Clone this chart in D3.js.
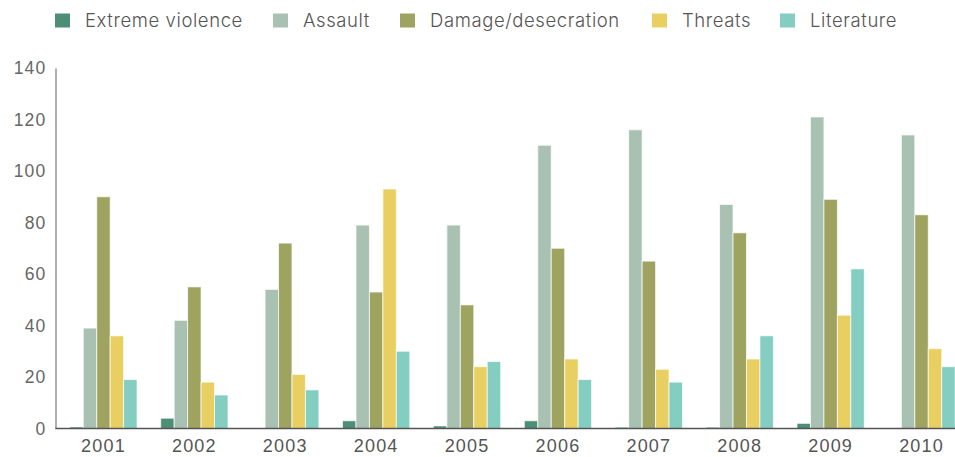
<!DOCTYPE html>
<html>
<head>
<meta charset="utf-8">
<script src="https://cdn.jsdelivr.net/npm/d3@7"></script>
<style>
  html, body { margin: 0; padding: 0; background: #fff; overflow: hidden; }
  svg { display: block; font-family: "Inter", "Open Sans", sans-serif; }
</style>
</head>
<body>
<svg id="chart" width="955" height="457"></svg>
<script>
// ---- data ----
const years = ["2001","2002","2003","2004","2005","2006","2007","2008","2009","2010"];
const seriesNames = ["Extreme violence","Assault","Damage/desecration","Threats","Literature"];
const extremeViolence = [0.6, 4, 0, 3, 1, 3, 0.5, 0.5, 2, 0];
const assault         = [39, 42, 54, 79, 79, 110, 116, 87, 121, 114];
const damage          = [90, 55, 72, 53, 48, 70, 65, 76, 89, 83];
const threats         = [36, 18, 21, 93, 24, 27, 23, 27, 44, 31];
const literature      = [19, 13, 15, 30, 26, 19, 18, 36, 62, 24];
const yTicks = [0, 20, 40, 60, 80, 100, 120, 140];
const colors = ["#4d8e77", "#a9c1b2", "#9ea460", "#e9cf61", "#83cdc1"];

const seriesValues = [extremeViolence, assault, damage, threats, literature];
const rows = years.map((y, i) => ({year: y, values: seriesValues.map((s, k) => ({key: seriesNames[k], k, v: s[i]}))}));

// ---- layout ----
const svg = d3.select("#chart");
const plotLeft = 55.5, plotBottom = 428.5, plotTop = 68;

const x0 = d3.scaleBand().domain(years).range([58, 967]).paddingInner(0.26).paddingOuter(0.13);
const x1 = d3.scaleBand().domain(d3.range(seriesNames.length)).range([0, x0.bandwidth()]).padding(0);
const y = d3.scaleLinear().domain([0, 140]).range([plotBottom, plotTop]);

// bars
const groups = svg.append("g").selectAll("g").data(rows).join("g")
  .attr("transform", d => `translate(${x0(d.year)},0)`);
groups.selectAll("rect").data(d => d.values.filter(v => v.v > 0)).join("rect")
  .attr("x", d => x1(d.k))
  .attr("width", x1.bandwidth())
  .attr("y", d => y(d.v))
  .attr("height", d => y(0) - y(d.v))
  .attr("fill", d => colors[d.k])
  .attr("stroke", "#fff")
  .attr("stroke-opacity", 0.7)
  .attr("stroke-width", 1);

// y axis
const yAxis = d3.axisLeft(y).tickValues(yTicks).tickSize(0).tickPadding(9);
const yg = svg.append("g").attr("transform", `translate(${plotLeft},0)`).call(yAxis);
yg.select(".domain").attr("stroke", "#777").attr("stroke-width", 1.2);
yg.selectAll("text").attr("font-size", 17.5).attr("fill", "#666").attr("font-weight", 300)
  .attr("letter-spacing", 1.2);

// x axis
const xAxis = d3.axisBottom(x0).tickSize(0).tickPadding(11);
const xg = svg.append("g").attr("transform", `translate(0,${plotBottom})`).call(xAxis);
xg.select(".domain").attr("d", `M${plotLeft},0H955`).attr("stroke", "#555").attr("stroke-width", 1.5);
xg.selectAll("text").attr("font-size", 18).attr("fill", "#555").attr("font-weight", 300)
  .attr("letter-spacing", 1.2);

// legend
const legendX = [55, 273, 400, 652, 780];
const legend = svg.append("g").selectAll("g").data(seriesNames).join("g")
  .attr("transform", (d, i) => `translate(${legendX[i]},13.5)`);
legend.append("rect").attr("width", 15).attr("height", 14).attr("fill", (d, i) => colors[i]);
legend.append("text").attr("x", 30).attr("y", 7).attr("dy", "0.36em")
  .attr("font-size", 18.5).attr("fill", "#555").attr("font-weight", 300)
  .attr("letter-spacing", 0.6)
  .text(d => d);
</script>
</body>
</html>
